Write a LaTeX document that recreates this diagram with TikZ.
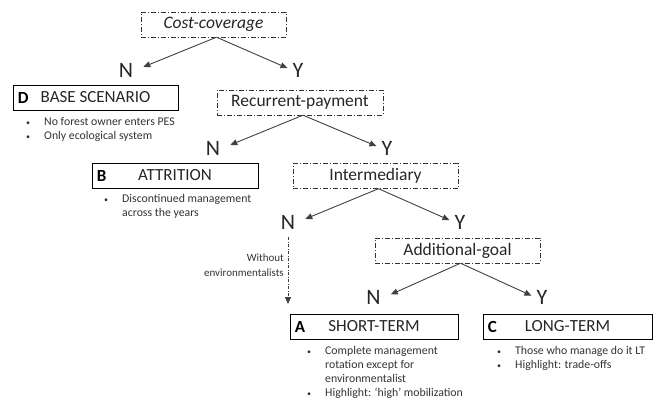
\documentclass[tikz,border=0pt]{standalone}
\usepackage{fontspec}
\setmainfont{Carlito}
\usetikzlibrary{arrows.meta}

\newcommand{\bitem}[1]{\makebox[18pt][l]{{\fontsize{8}{8}\selectfont\textbullet}}#1}
\newcommand{\bcont}[1]{\hspace*{18pt}#1}

\tikzset{
  dashdot/.style={dash pattern=on 5pt off 2pt on 1pt off 2pt},
  decision/.style={draw=black!80, dashdot, minimum width=165pt, minimum height=25pt, inner sep=0pt, text=black!85, font=\fontsize{17.5}{19}\selectfont},
  outcome/.style={draw, line width=0.8pt, minimum width=166pt, minimum height=25pt, inner sep=0pt, text=black!85, font=\fontsize{17}{19}\selectfont},
  letter/.style={anchor=west, inner sep=0pt, font=\bfseries\fontsize{17}{17}\selectfont},
  nlab/.style={inner xsep=10pt, inner ysep=2pt, text=black!85, font=\fontsize{22}{22}\selectfont},
  ylab/.style={inner xsep=5pt, inner ysep=2pt, text=black!85, font=\fontsize{22}{22}\selectfont},
  bullets/.style={anchor=north west, align=left, inner sep=0pt, text=black!80, font=\fontsize{11.8}{14}\selectfont},
  branch/.style={draw=black!75, line width=0.9pt, -{Triangle[length=7pt,width=6pt]}},
  drop/.style={draw=black!75, line width=0.8pt, dash pattern=on 3pt off 1.5pt on 1pt off 1.5pt, -{Triangle[length=7pt,width=6pt]}}
}

\begin{document}
\begin{tikzpicture}[x=1pt, y=-1pt]
  \useasboundingbox (0,0) rectangle (656,400);

  % Decision boxes
  \node[decision, minimum width=145pt, font=\itshape\fontsize{17.5}{19}\selectfont] (cost) at (213.5,24.5) {Cost-coverage};
  \node[decision, minimum width=166pt] (recur) at (300,102.5) {Recurrent-payment};
  \node[decision] (inter) at (375.5,176) {Intermediary};
  \node[decision] (addgoal) at (457.5,250.5) {Additional-goal};

  % N / Y labels
  \node[nlab] (n1) at (126,70) {N};
  \node[ylab] (y1) at (298,70) {Y};
  \node[nlab] (n2) at (213,148) {N};
  \node[ylab] (y2) at (387,148) {Y};
  \node[nlab] (n3) at (288,222) {N};
  \node[ylab] (y3) at (460,222) {Y};
  \node[nlab] (n4) at (373.5,297.5) {N};
  \node[ylab] (y4) at (542,297.5) {Y};

  \foreach \dec/\no/\yes in {cost/n1/y1, recur/n2/y2, inter/n3/y3, addgoal/n4/y4} {
    \draw[branch] ([xshift=3pt]\dec.south) -- (\no.10);
    \draw[branch] ([xshift=3pt]\dec.south) -- (\yes.170);
  }

  % Scenarios
  \node[outcome, minimum width=165pt] (base) at (95.5,97.5) {BASE SCENARIO};
  \node[letter] (dlet) at ([xshift=5pt]base.west) {D};
  \node[outcome] (attr) at (175,175.5) {ATTRITION};
  \node[letter] (blet) at ([xshift=5pt]attr.west) {B};
  \node[outcome, minimum width=168pt] (short) at (374,326.5) {SHORT-TERM};
  \node[letter] (alet) at ([xshift=5pt]short.west) {A};
  \node[outcome, minimum width=169pt] (long) at (567.5,326.5) {LONG-TERM};
  \node[letter] (clet) at ([xshift=5pt]long.west) {C};

  % Descriptions
  \node[bullets] (dtext) at (26,117.5) {\bitem{No forest owner enters PES}\\ \bitem{Only ecological system}};
  \node[bullets] (btext) at (104,194.5) {\bitem{Discontinued management}\\ \bcont{across the years}};
  \node[bullets] (atext) at (307,346.5) {\bitem{Complete management}\\ \bcont{rotation except for}\\ \bcont{environmentalist}\\ \bitem{Highlight: `high' mobilization}};
  \node[bullets] (ctext) at (497,346.5) {\bitem{Those who manage do it LT}\\ \bitem{Highlight: trade-offs}};

  % Without environmentalists
  \coordinate (dropend) at (288,304);
  \draw[drop, shorten <=6pt] (n3.south) -- (dropend);
  \node[align=right, anchor=east, inner sep=0pt, text=black!80, font=\fontsize{11}{15}\selectfont] (without) at (284,265) {Without\\environmentalists};
\end{tikzpicture}
\end{document}
